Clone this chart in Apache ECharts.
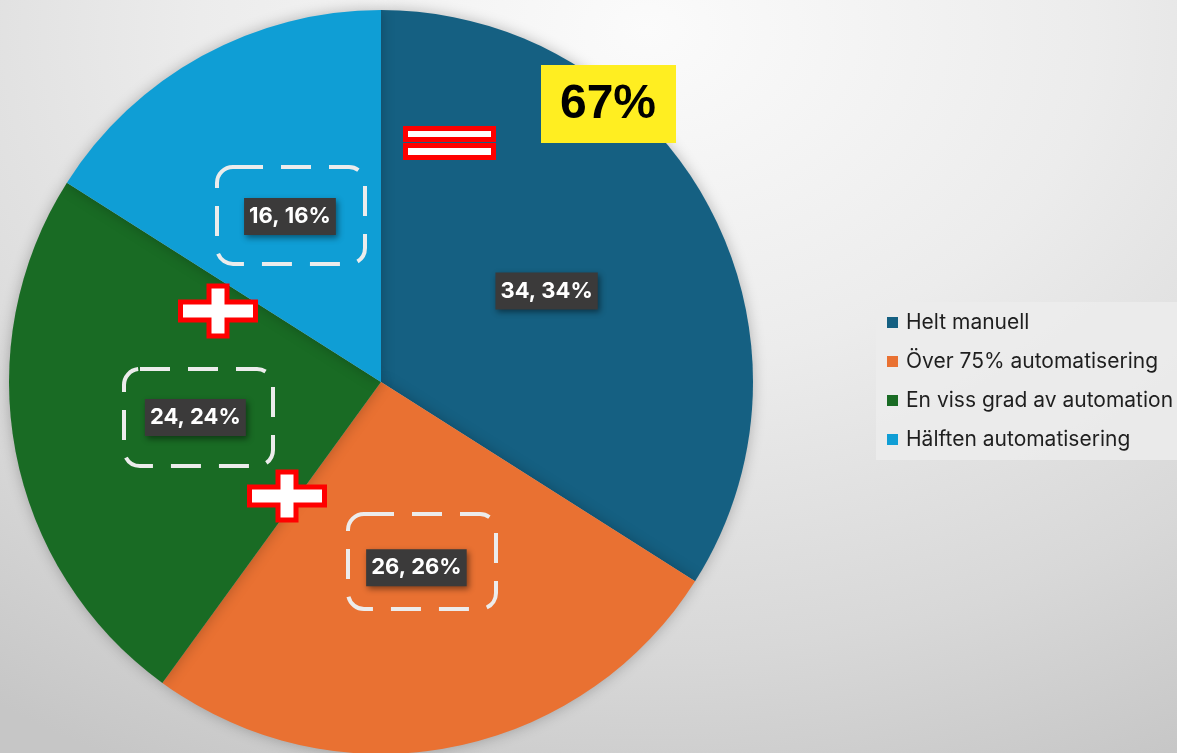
<!DOCTYPE html>
<html>
<head>
<meta charset="utf-8">
<script src="https://cdn.jsdelivr.net/npm/echarts@6/dist/echarts.min.js"></script>
<style>
  html, body { margin: 0; padding: 0; }
  #pie {
    width: 1177px; height: 753px;
    background: radial-gradient(ellipse 95% 110% at 55% 4%, #fbfbfb 0%, #ececec 40%, #d8d8d8 75%, #c6c6c6 100%);
  }
</style>
</head>
<body>
<div id="pie"></div>
<script>
// data
var categories = ['Helt manuell', 'Över 75% automatisering', 'En viss grad av automation', 'Hälften automatisering'];
var values = [34, 26, 24, 16];
var colors = ['#156082', '#E97132', '#196B24', '#0F9ED5'];
var totalNote = '67%';

var pieData = categories.map(function (name, i) {
  return { name: name, value: values[i] };
});

// red "+" outline helper
function cross(cx, cy, hw, hh, t) {
  return [
    [cx - t, cy - hh], [cx + t, cy - hh], [cx + t, cy - t], [cx + hw, cy - t],
    [cx + hw, cy + t], [cx + t, cy + t], [cx + t, cy + hh], [cx - t, cy + hh],
    [cx - t, cy + t], [cx - hw, cy + t], [cx - hw, cy - t], [cx - t, cy - t]
  ];
}

function dashedBox(x, y, w, h) {
  return {
    type: 'rect', z: 10,
    shape: { x: x, y: y, width: w, height: h, r: 16 },
    style: { fill: 'none', stroke: '#ececec', lineWidth: 4, lineDash: [30, 18] }
  };
}

var myChart = echarts.init(document.getElementById('pie'));
var option = {
  color: colors,
  legend: {
    orient: 'vertical',
    left: 876,
    top: 302,
    padding: [10, 14, 10, 11],
    backgroundColor: 'rgba(236,236,236,0.85)',
    itemWidth: 11,
    itemHeight: 11,
    itemGap: 18,
    icon: 'rect',
    textStyle: { fontFamily: 'Inter', fontSize: 21, color: '#1f1f1f', padding: [0, 0, 0, 3] },
    data: categories
  },
  graphic: [
    dashedBox(217, 167, 148, 97),
    dashedBox(124, 369, 149, 97),
    dashedBox(348, 514, 148, 95),
    {
      type: 'polygon', z: 10,
      shape: { points: cross(218, 311, 37.5, 25, 9) },
      style: { fill: '#ffffff', stroke: '#ff0000', lineWidth: 5 }
    },
    {
      type: 'polygon', z: 10,
      shape: { points: cross(287, 496, 37.5, 24, 9) },
      style: { fill: '#ffffff', stroke: '#ff0000', lineWidth: 5 }
    },
    {
      type: 'rect', z: 10,
      shape: { x: 405.5, y: 128.5, width: 88, height: 11 },
      style: { fill: '#ffffff', stroke: '#ff0000', lineWidth: 5 }
    },
    {
      type: 'rect', z: 10,
      shape: { x: 405.5, y: 145.5, width: 88, height: 12 },
      style: { fill: '#ffffff', stroke: '#ff0000', lineWidth: 5 }
    },
    {
      type: 'rect', z: 10,
      shape: { x: 541, y: 65, width: 135, height: 78 },
      style: { fill: '#ffee21' }
    },
    {
      type: 'text', z: 11,
      x: 608, y: 105,
      style: {
        text: totalNote, fill: '#000000',
        font: 'bold 48px "Liberation Sans", Arial, sans-serif',
        align: 'center', verticalAlign: 'middle'
      }
    }
  ],
  series: [
    {
      name: 'Automatisering',
      type: 'pie',
      radius: 372,
      center: [381, 382],
      startAngle: 90,
      clockwise: true,
      silent: true,
      itemStyle: {
        shadowBlur: 14,
        shadowColor: 'rgba(0,0,0,0.25)'
      },
      label: {
        show: true,
        position: 'inside',
        formatter: '{c}, {d}%',
        color: '#ffffff',
        fontFamily: 'Inter',
        fontWeight: 'bold',
        fontSize: 22,
        backgroundColor: '#3b3a3a',
        padding: [8, 5, 7, 5],
        shadowBlur: 6,
        shadowOffsetX: 2,
        shadowOffsetY: 3,
        shadowColor: 'rgba(0,0,0,0.45)'
      },
      labelLine: { show: false },
      data: pieData
    }
  ]
};
// 使用刚指定的配置项和数据显示图表。
myChart.setOption(option, true);
</script>
</body>
</html>
